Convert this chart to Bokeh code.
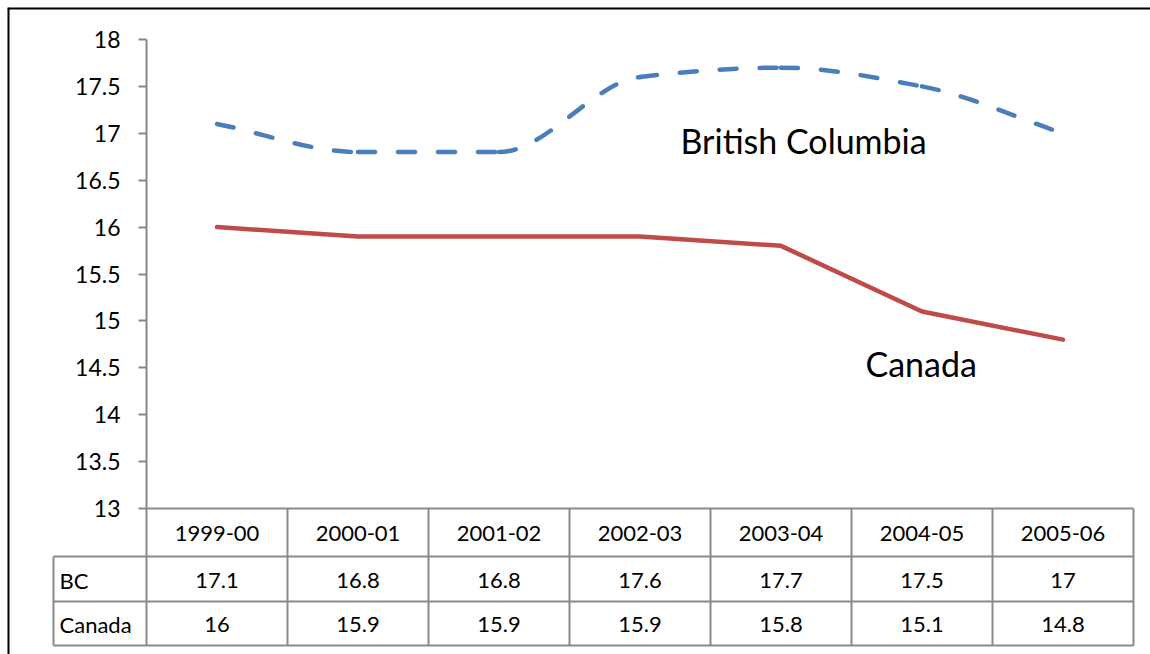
from bokeh.plotting import figure
from bokeh.models import (Range1d, FixedTicker, CustomJSTickFormatter, ColumnDataSource, Label)
from bokeh.core.properties import value
from bokeh.embed import file_html
from bokeh.resources import INLINE

# ---------------- data ----------------
categories = ["1999-00", "2000-01", "2001-02", "2002-03", "2003-04", "2004-05", "2005-06"]
bc = [17.1, 16.8, 16.8, 17.6, 17.7, 17.5, 17.0]
canada = [16.0, 15.9, 15.9, 15.9, 15.8, 15.1, 14.8]
bc_table = ["17.1", "16.8", "16.8", "17.6", "17.7", "17.5", "17"]
canada_table = ["16", "15.9", "15.9", "15.9", "15.8", "15.1", "14.8"]
row_names = ["BC", "Canada"]
series_names = ["British Columbia", "Canada"]
y_ticks = [13, 13.5, 14, 14.5, 15, 15.5, 16, 16.5, 17, 17.5, 18]

# ---------------- layout (page pixels) ----------------
W, H = 1150, 654
EDGE = 7                    # frame starts at the outer border
AXIS_X = 146                # page x of the value axis (category 0 edge)
COL = 141.0                 # px per category
Y18_PX, Y13_PX = 39, 508    # page y of 18 and 13
UNIT = (Y13_PX - Y18_PX) / 5.0
x_start = -(AXIS_X - EDGE) / COL
x_end = (W - AXIS_X) / COL
y_end = 18 + (Y18_PX - EDGE) / UNIT
y_start = 13 - (H - Y13_PX) / UNIT

BLUE = "#4a7ebb"
RED = "#be4b48"
GRID = "#8a8a8a"
FONT = "Lato"

p = figure(width=W, height=H, output_backend="svg", toolbar_location=None,
           x_range=Range1d(x_start, x_end), y_range=Range1d(y_start, y_end),
           x_axis_location=None, min_border_left=EDGE, min_border_right=0,
           min_border_top=EDGE, min_border_bottom=0)
p.extra_y_ranges = {"tbl": Range1d(start=H, end=EDGE)}   # page-pixel rows for the table
p.grid.visible = False
p.outline_line_color = None
p.background_fill_color = "white"
p.border_fill_color = "white"

ax = p.yaxis[0]
ax.fixed_location = 0
ax.ticker = FixedTicker(ticks=y_ticks)
ax.bounds = (13, 18)
ax.formatter = CustomJSTickFormatter(code="return String(tick)")
ax.major_tick_out = 8
ax.major_tick_in = 0
ax.minor_tick_out = 0
ax.minor_tick_in = 0
ax.axis_line_color = "#868686"
ax.axis_line_width = 2
ax.major_tick_line_color = "#868686"
ax.major_tick_line_width = 2
ax.major_label_text_font = FONT
ax.major_label_text_font_size = "23px"
ax.major_label_text_color = "black"
ax.major_label_standoff = 18

xs = [i + 0.5 for i in range(len(categories))]

# Canada (straight)
p.line(xs, canada, line_color=RED, line_width=4.5, line_join="round", line_cap="round")

# BC (smoothed, dashed): monotone cubic bezier segments computed from the data
n = len(bc)
sl = [(bc[i + 1] - bc[i]) / (xs[i + 1] - xs[i]) for i in range(n - 1)]
tan = [0.0] * n
tan[0], tan[-1] = sl[0], sl[-1]
for i in range(1, n - 1):
    a, b = sl[i - 1], sl[i]
    tan[i] = 0.0 if a * b <= 0 else 2 * a * b / (a + b)
bx0, by0, bx1, by1, cx0, cy0, cx1, cy1 = [], [], [], [], [], [], [], []
for i in range(n - 1):
    h = (xs[i + 1] - xs[i]) / 3.0
    bx0.append(xs[i]); by0.append(bc[i]); bx1.append(xs[i + 1]); by1.append(bc[i + 1])
    cx0.append(xs[i] + h); cy0.append(bc[i] + tan[i] * h)
    cx1.append(xs[i + 1] - h); cy1.append(bc[i + 1] - tan[i + 1] * h)
p.bezier(x0=bx0, y0=by0, x1=bx1, y1=by1, cx0=cx0, cy0=cy0, cx1=cx1, cy1=cy1,
         line_color=BLUE, line_width=4.5, line_dash="17 23", line_cap="round")

# series labels
p.add_layout(Label(x=(680 - AXIS_X) / COL, y=140, y_range_name="tbl", text=series_names[0],
                   text_font=FONT, text_font_size="34px", text_color="black",
                   text_baseline="alphabetic", text_align="left"))
p.add_layout(Label(x=(865 - AXIS_X) / COL, y=363, y_range_name="tbl", text=series_names[1],
                   text_font=FONT, text_font_size="34px", text_color="black",
                   text_baseline="alphabetic", text_align="left"))

# ---------------- data table ----------------
ROWS = [508, 556, 601, 645]
ncol = len(categories)
LBL_X0 = (53 - AXIS_X) / COL
h_x0 = [0, LBL_X0, LBL_X0, LBL_X0]
p.segment(x0=h_x0, x1=[ncol] * 4, y0=ROWS, y1=ROWS, y_range_name="tbl",
          line_color=GRID, line_width=2)
p.segment(x0=list(range(ncol + 1)), x1=list(range(ncol + 1)),
          y0=[ROWS[0]] * (ncol + 1), y1=[ROWS[3]] * (ncol + 1), y_range_name="tbl",
          line_color=GRID, line_width=2)
p.segment(x0=[LBL_X0], x1=[LBL_X0], y0=[ROWS[1]], y1=[ROWS[3]], y_range_name="tbl",
          line_color=GRID, line_width=2)

hdr_y = (ROWS[0] + ROWS[1]) / 2 + 1
bc_y = (ROWS[1] + ROWS[2]) / 2 + 1
ca_y = (ROWS[2] + ROWS[3]) / 2 + 1
tsrc = ColumnDataSource(dict(
    x=xs * 3,
    y=[hdr_y] * ncol + [bc_y] * ncol + [ca_y] * ncol,
    t=categories + bc_table + canada_table))
p.text(x="x", y="y", text="t", source=tsrc, y_range_name="tbl",
       text_font=value(FONT), text_font_size="22px", text_color="black",
       text_align="center", text_baseline="middle")

rsrc = ColumnDataSource(dict(x=[LBL_X0 + 6 / COL] * 2, y=[bc_y, ca_y], t=row_names))
p.text(x="x", y="y", text="t", source=rsrc, y_range_name="tbl",
       text_font=value(FONT), text_font_size="22px", text_color="black",
       text_align="left", text_baseline="middle")

# outer border (left & top edges of the chart area)
p.segment(x0=[x_start, x_start], x1=[x_end, x_start], y0=[EDGE, EDGE], y1=[EDGE, H],
          y_range_name="tbl", line_color="black", line_width=4)

open("out.html", "w").write(file_html(p, INLINE))
